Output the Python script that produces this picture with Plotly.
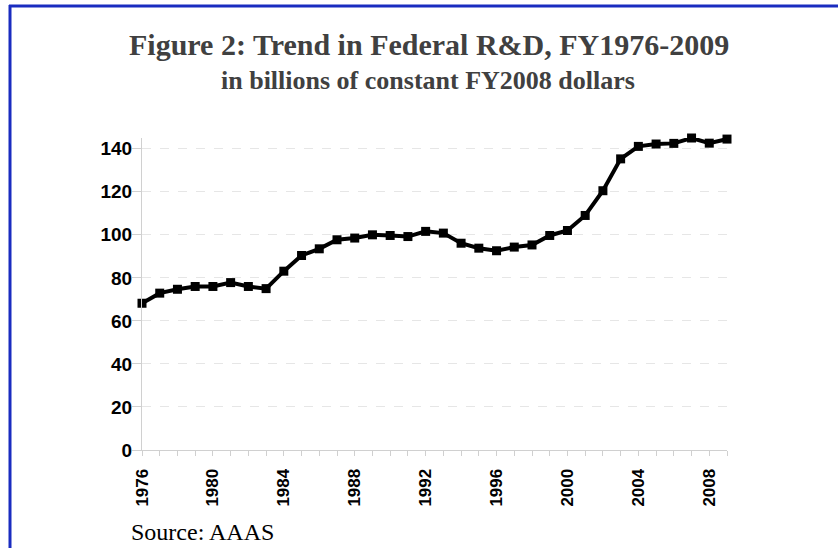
import plotly.graph_objects as go

years = list(range(1976, 2010))
rd_billions = [68.2, 72.9, 74.7, 76.0, 76.0, 77.8, 76.0, 75.0, 83.1, 90.4,
               93.5, 97.7, 98.5, 100.0, 99.7, 99.2, 101.6, 100.8, 96.1, 93.8,
               92.6, 94.3, 95.3, 99.7, 102.0, 109.0, 120.5, 135.3, 141.1, 142.2,
               142.5, 145.0, 142.6, 144.5]
x_tick_years = list(range(1976, 2009, 4))
y_ticks = list(range(0, 141, 20))

title = "Figure 2: Trend in Federal R&D, FY1976-2009"
subtitle = "in billions of constant FY2008 dollars"
source = "Source: AAAS"

W, H = 838, 548
L, R, T, B = 142, 111, 138, 98
pw, ph = W - L - R, H - T - B

def px(x):
    return (x - L) / pw

def py(y):
    return (H - B - y) / ph

fig = go.Figure()
fig.add_trace(go.Scatter(
    x=years, y=rd_billions, mode="lines+markers",
    line=dict(color="black", width=4),
    marker=dict(symbol="square", size=9, color="black"),
    cliponaxis=False, showlegend=False,
))

fig.update_layout(
    width=W, height=H,
    margin=dict(l=L, r=R, t=T, b=B, pad=0),
    paper_bgcolor="white", plot_bgcolor="white",
    xaxis=dict(
        range=[1976, 2009], tickvals=x_tick_years, ticktext=[str(v) for v in x_tick_years],
        tickangle=-90, ticks="outside", ticklen=5, tickcolor="#d0d0d0",
        showline=True, linecolor="#d0d0d0", linewidth=1, showgrid=False, zeroline=False,
        ticklabelstandoff=6,
        tickfont=dict(family="Liberation Sans", size=17, color="black", weight="bold"),
        minor=dict(dtick=1, ticks="outside", ticklen=5, tickcolor="#d0d0d0"),
    ),
    yaxis=dict(
        range=[0, 145], tickvals=y_ticks, ticks="outside", ticklen=9, tickcolor="#d0d0d0",
        showline=True, linecolor="#d0d0d0", linewidth=1,
        showgrid=True, gridcolor="#e6e6e6", griddash="dash", gridwidth=1, zeroline=False,
        ticklabelstandoff=-4,
        tickfont=dict(family="Liberation Sans", size=19, color="black", weight="bold"),
    ),
    annotations=[
        dict(text=title, x=px(429), y=py(45), xref="paper", yref="paper", showarrow=False,
             xanchor="center", yanchor="middle",
             font=dict(family="Liberation Serif", size=30, color="#404040", weight="bold")),
        dict(text=subtitle, x=px(428), y=py(80), xref="paper", yref="paper", showarrow=False,
             xanchor="center", yanchor="middle",
             font=dict(family="Liberation Serif", size=26, color="#404040", weight="bold")),
        dict(text=source, x=px(129), y=py(532), xref="paper", yref="paper", showarrow=False,
             xanchor="left", yanchor="middle",
             font=dict(family="Liberation Serif", size=24, color="black")),
    ],
    shapes=[
        dict(type="line", xref="paper", yref="paper", x0=px(9), x1=px(W), y0=py(6), y1=py(6),
             line=dict(color="#1a2cc0", width=3)),
        dict(type="line", xref="paper", yref="paper", x0=px(10), x1=px(10), y0=py(5), y1=py(H),
             line=dict(color="#1a2cc0", width=3)),
    ],
)

fig.write_html("out.html", config={"displayModeBar": False},
               post_script="document.body.style.margin='0px';")
